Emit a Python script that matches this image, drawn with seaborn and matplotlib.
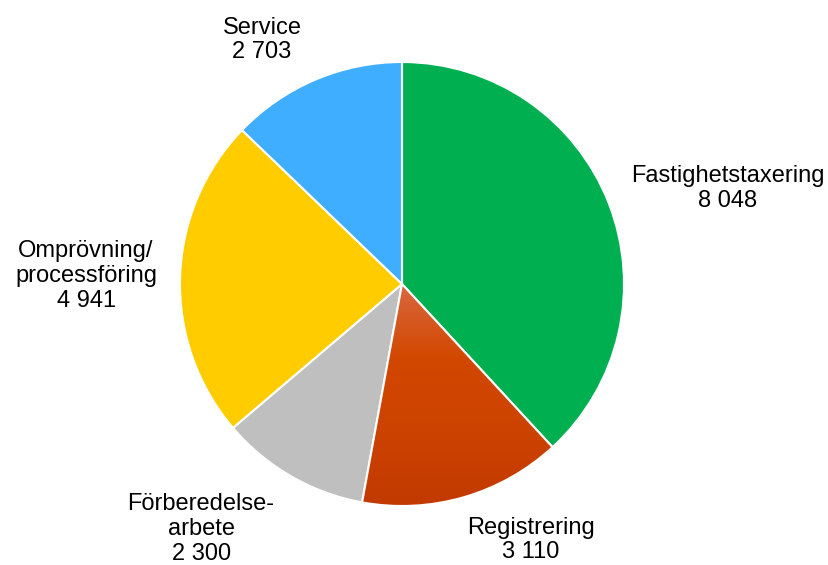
import numpy as np
import matplotlib
matplotlib.use('Agg')
import matplotlib.pyplot as plt
import seaborn as sns
from matplotlib.colors import LinearSegmentedColormap

sns.set_style('white')
plt.rcParams['font.family'] = ['Liberation Sans', 'DejaVu Sans']

labels = ['Fastighetstaxering', 'Registrering', 'Förberedelse-\narbete',
          'Omprövning/\nprocessföring', 'Service']
values = [8048, 3110, 2300, 4941, 2703]
colors = ['#00B050', '#CF4500', '#BFBFBF', '#FFCC00', '#3FAEFF']
# label centres in data units (pie radius = 1)
label_pos = [(1.468, 0.432), (0.581, -1.153), (-0.905, -1.103),
             (-1.423, 0.036), (-0.631, 1.099)]

def fmt(v):
    return f'{v:,}'.replace(',', ' ')

fig = plt.figure(figsize=(8.29, 5.65), dpi=100)
ax = fig.add_axes([0, 0, 1, 1])
wedges, _ = ax.pie(values, colors=colors, startangle=90, counterclock=False,
                   wedgeprops=dict(edgecolor='white', linewidth=1.5))

# vertical gradient on the Registrering slice
cmap = LinearSegmentedColormap.from_list('reg', ['#D9683F', '#D24800', '#CC4200', '#C23A00'])
grad = np.linspace(0, 1, 256).reshape(-1, 1)
im = ax.imshow(grad, cmap=cmap, extent=(-1, 1, -1, 0), origin='upper',
               aspect='auto', zorder=wedges[1].get_zorder())
im.set_clip_path(wedges[1])
wedges[1].set_facecolor('none')
wedges[1].set_zorder(im.get_zorder() + 0.1)

for lab, v, (x, y) in zip(labels, values, label_pos):
    ax.text(x, y, f'{lab}\n{fmt(v)}', ha='center', va='center',
            fontsize=17, linespacing=1.17, color='black')

ax.set_xlim(-402 / 222, (829 - 402) / 222)
ax.set_ylim(-(565 - 284) / 222, 284 / 222)
ax.set_aspect('auto')
ax.axis('off')
fig.savefig('out.png', dpi=100)
